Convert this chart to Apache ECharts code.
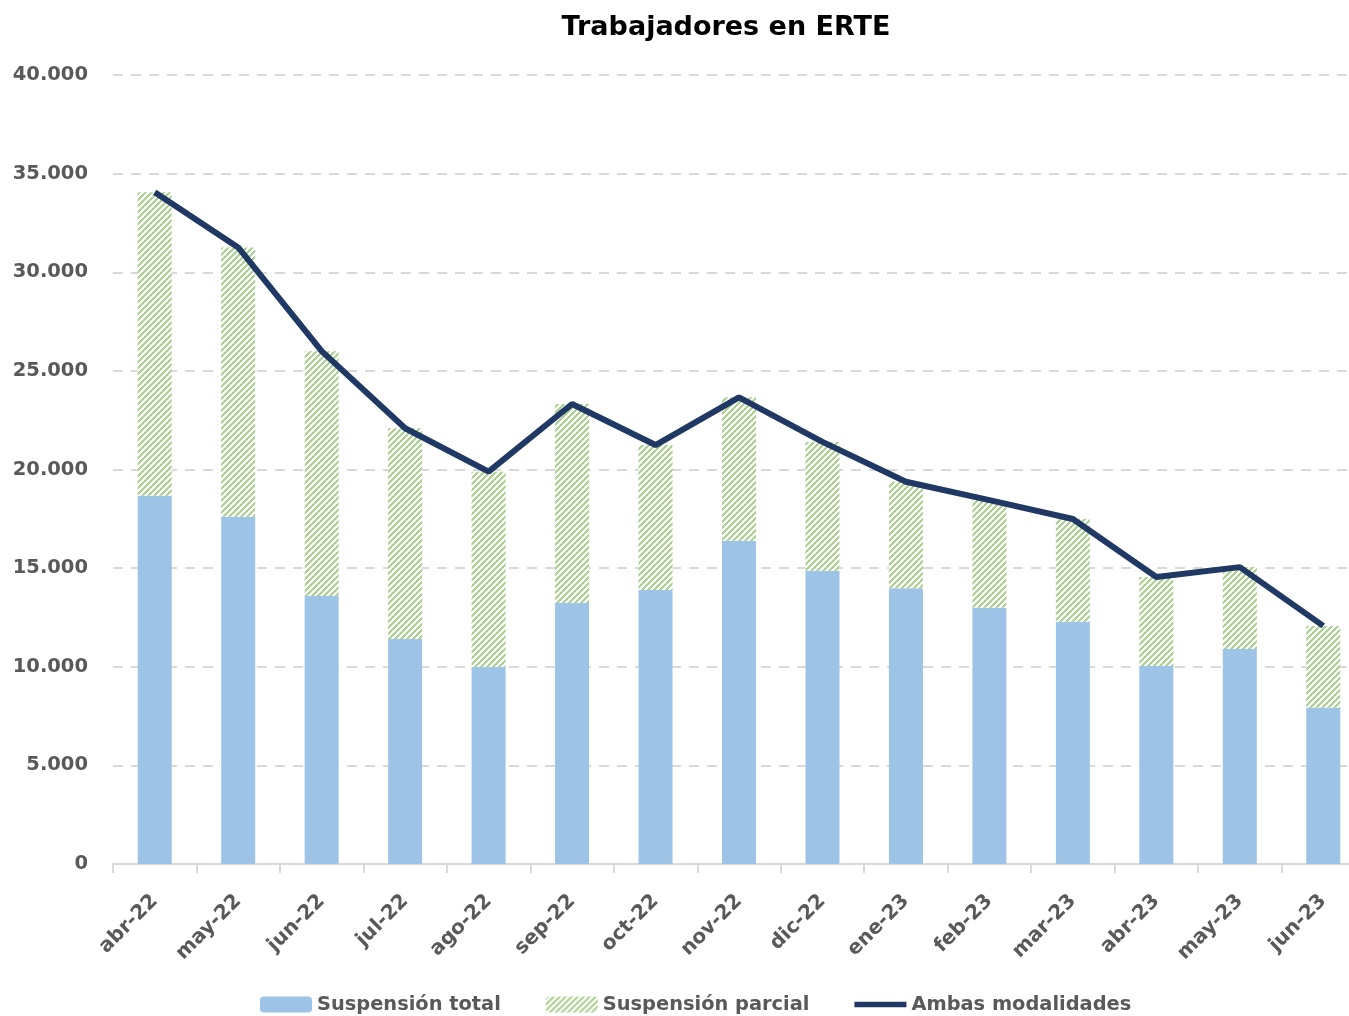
<!DOCTYPE html>
<html>
<head>
<meta charset="utf-8">
<script src="https://cdn.jsdelivr.net/npm/echarts@6/dist/echarts.min.js"></script>
<style>
html,body{margin:0;padding:0;background:#fff;}
#chart{width:1349px;height:1016px;}
</style>
</head>
<body>
<div id="chart"></div>
<script>
const categories = ['abr-22','may-22','jun-22','jul-22','ago-22','sep-22','oct-22','nov-22','dic-22','ene-23','feb-23','mar-23','abr-23','may-23','jun-23'];
const suspensionTotal = [18670, 17610, 13590, 11410, 9990, 13230, 13890, 16390, 14870, 13980, 12990, 12280, 10040, 10900, 7930];
const suspensionParcial = [15380, 13650, 12410, 10680, 9900, 10090, 7350, 7270, 6530, 5400, 5460, 5210, 4510, 4150, 4140];
const ambasModalidades = [34050, 31260, 26000, 22090, 19890, 23320, 21240, 23660, 21400, 19380, 18450, 17490, 14550, 15050, 12070];
const yTicks = { min: 0, max: 40000, interval: 5000 };

function makeHatch() {
  const size = 6;
  const c = document.createElement('canvas');
  c.width = size; c.height = size;
  const ctx = c.getContext('2d');
  ctx.fillStyle = '#ffffff';
  ctx.fillRect(0, 0, size, size);
  ctx.fillStyle = '#add393';
  for (let x = 0; x < size; x++) {
    for (let y = 0; y < size; y++) {
      if ((x + y) % size < 3) ctx.fillRect(x, y, 1, 1);
    }
  }
  return c;
}
const hatch = { image: makeHatch(), repeat: 'repeat' };

const fontFam = '"DejaVu Sans", sans-serif';
const fmt = v => String(v).replace(/\B(?=(\d{3})+(?!\d))/g, '.');
const lineIcon = 'path://M0,0 M0,5 L55,5 L55,11 L0,11 Z M55,16';

const chart = echarts.init(document.getElementById('chart'), null, { renderer: 'canvas' });
chart.setOption({
  animation: false,
  backgroundColor: '#ffffff',
  title: {
    text: 'Trabajadores en ERTE',
    left: 721, top: 9, textAlign: 'center',
    textStyle: { fontFamily: fontFam, fontWeight: 'bold', fontSize: 27, color: '#000000' }
  },
  legend: {
    data: [
      { name: 'Suspensión total' },
      { name: 'Suspensión parcial' },
      { name: 'Ambas modalidades', icon: lineIcon }
    ],
    left: 255, top: 990, itemWidth: 52, itemHeight: 16, itemGap: 45,
    textStyle: { fontFamily: fontFam, fontWeight: 'bold', fontSize: 19.4, color: '#595959' }
  },
  grid: { left: 113, width: 1252, top: 75, bottom: 152, outerBoundsMode: 'none', containLabel: false },
  xAxis: {
    type: 'category', data: categories, boundaryGap: true,
    axisLine: { lineStyle: { color: '#d9d9d9', width: 2 } },
    axisTick: { show: true, length: 9, lineStyle: { color: '#d9d9d9', width: 2 } },
    axisLabel: { rotate: 45, margin: 34, fontFamily: fontFam, fontWeight: 'bold', fontSize: 20, color: '#595959', interval: 0 }
  },
  yAxis: {
    type: 'value', min: yTicks.min, max: yTicks.max, interval: yTicks.interval,
    axisLine: { show: false }, axisTick: { show: false },
    splitLine: { lineStyle: { color: '#d9d9d9', width: 2, type: [10, 8] } },
    axisLabel: { margin: 25, fontFamily: fontFam, fontWeight: 'bold', fontSize: 19.5, color: '#595959', formatter: fmt }
  },
  series: [
    { name: 'Suspensión total', type: 'bar', stack: 'a', data: suspensionTotal, barWidth: 34,
      itemStyle: { color: '#9dc3e6' } },
    { name: 'Suspensión parcial', type: 'bar', stack: 'a', data: suspensionParcial, barWidth: 34,
      itemStyle: { color: hatch } },
    { name: 'Ambas modalidades', type: 'line', data: ambasModalidades, symbol: 'none',
      lineStyle: { color: '#203864', width: 6 }, itemStyle: { color: '#203864' } }
  ]
});
</script>
</body>
</html>
